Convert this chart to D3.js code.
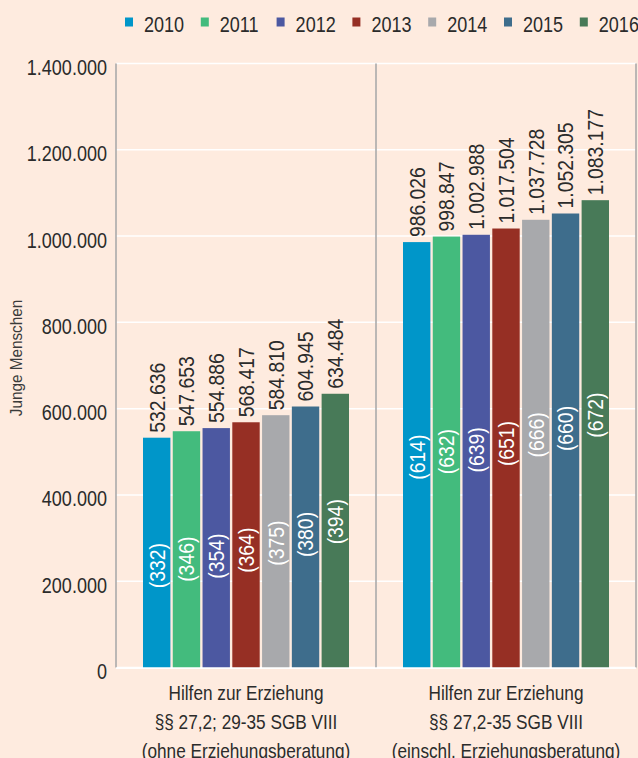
<!DOCTYPE html>
<html>
<head>
<meta charset="utf-8">
<script src="https://cdn.jsdelivr.net/npm/d3@7"></script>
<style>
  html, body { margin: 0; padding: 0; background: #feebdf; }
  svg { display: block; font-family: "Liberation Sans", Arial, sans-serif; }
</style>
</head>
<body>
<div class="plot"></div>
<script>
// data
const years = ["2010", "2011", "2012", "2013", "2014", "2015", "2016"]
const groupLabels = [
  ["Hilfen zur Erziehung", "§§ 27,2; 29-35 SGB VIII", "(ohne Erziehungsberatung)"],
  ["Hilfen zur Erziehung", "§§ 27,2-35 SGB VIII", "(einschl. Erziehungsberatung)"]
]
const valuesOhne = [532636, 547653, 554886, 568417, 584810, 604945, 634484]
const valuesEinschl = [986026, 998847, 1002988, 1017504, 1037728, 1052305, 1083177]
const ratesOhne = [332, 346, 354, 364, 375, 380, 394]
const ratesEinschl = [614, 632, 639, 651, 666, 660, 672]
const yTicks = [0, 200000, 400000, 600000, 800000, 1000000, 1200000, 1400000]
const colors = ["#0096c9", "#43bb7d", "#4c58a1", "#962f24", "#a8a9ac", "#3e6d8c", "#487a58"]

const W = 638, H = 758
const margin = {top: 63.5, right: 2, bottom: 90.5, left: 116}
const width = W - margin.left - margin.right,
      height = H - margin.top - margin.bottom
// the original uses a condensed face, so squeeze Liberation Sans
const squeeze = 0.82, squeezeBar = 0.88

const de = d3.formatLocale({decimal: ",", thousands: ".", grouping: [3], currency: ["", "€"]})
const fmt = de.format(",")

const groups = [
  {label: groupLabels[0], values: valuesOhne, rates: ratesOhne, inner: 128},
  {label: groupLabels[1], values: valuesEinschl, rates: ratesEinschl, inner: 215}
]

let svg = d3.select(".plot").append("svg")
  .attr("width", W)
  .attr("height", H)

svg.append("rect").attr("width", W).attr("height", H).attr("fill", "#feebdf")

let g = svg.append("g")
  .attr("transform", "translate(" + margin.left + "," + margin.top + ")")

let yScale = d3.scaleLinear().domain([0, 1400000]).range([height, 0])
let x0 = d3.scaleBand().domain([0, 1]).range([0, width])
let x1 = d3.scaleBand().domain(years).range([27, x0.bandwidth() - 27]).paddingInner(0.08)

// gridlines
g.append("g").selectAll("line")
  .data(yTicks)
  .join("line")
  .attr("x1", 0).attr("x2", width)
  .attr("y1", d => yScale(d)).attr("y2", d => yScale(d))
  .attr("stroke", "#ffffff")
  .attr("stroke-width", 1.5)

// y axis labels
let yAxis = d3.axisLeft(yScale).tickValues(yTicks).tickFormat(fmt).tickSize(0).tickPadding(9)
let ya = g.append("g").call(yAxis)
ya.select(".domain").remove()
ya.selectAll("text")
  .attr("font-family", "Liberation Sans, Arial, sans-serif")
  .attr("font-size", 22)
  .attr("fill", "#2b2b2b")
  .attr("x", 0)
  .attr("dy", "0.5em")
  .attr("transform", "translate(-9,0) scale(" + squeeze + ",1)")

// vertical separators
g.append("g").selectAll("line")
  .data([0, 1, 2])
  .join("line")
  .attr("x1", d => d * x0.bandwidth()).attr("x2", d => d * x0.bandwidth())
  .attr("y1", 0).attr("y2", height)
  .attr("stroke", "#aaaaaa")
  .attr("stroke-width", 1.6)

let grp = g.selectAll(".grp")
  .data(groups)
  .join("g")
  .attr("class", "grp")
  .attr("transform", (d, i) => "translate(" + x0(i) + ",0)")

grp.each(function(gd) {
  let sel = d3.select(this)
  let items = gd.values.map((v, i) => ({year: years[i], value: v, rate: gd.rates[i], color: colors[i]}))
  sel.selectAll("rect")
    .data(items)
    .join("rect")
    .attr("x", d => x1(d.year))
    .attr("width", x1.bandwidth())
    .attr("y", d => yScale(d.value))
    .attr("height", d => height - yScale(d.value))
    .attr("fill", d => d.color)
  // value labels above bars
  sel.selectAll(".val")
    .data(items)
    .join("text")
    .attr("class", "val")
    .attr("transform", d => "translate(" + (x1(d.year) + x1.bandwidth() / 2) + "," + (yScale(d.value) - 5) + ") rotate(-90) scale(" + squeezeBar + ",1)")
    .attr("dy", "0.36em")
    .attr("font-size", 22)
    .attr("fill", "#2b2b2b")
    .text(d => fmt(d.value))
  // rates inside bars
  sel.selectAll(".rate")
    .data(items)
    .join("text")
    .attr("class", "rate")
    .attr("transform", d => "translate(" + (x1(d.year) + x1.bandwidth() / 2) + "," + (yScale(d.value) + gd.inner) + ") rotate(-90) scale(" + squeezeBar + ",1)")
    .attr("dy", "0.36em")
    .attr("text-anchor", "middle")
    .attr("font-size", 22)
    .attr("fill", "#ffffff")
    .text(d => "(" + d.rate + ")")
  // category label
  sel.append("g")
    .attr("transform", "translate(" + (x0.bandwidth() / 2) + "," + (height + 32.5) + ") scale(" + squeeze + ",1)")
    .append("text")
    .attr("text-anchor", "middle")
    .attr("font-size", 21)
    .attr("fill", "#2b2b2b")
    .selectAll("tspan")
    .data(gd.label)
    .join("tspan")
    .attr("x", 0)
    .attr("dy", (d, i) => i == 0 ? 0 : 29)
    .text(d => d)
})

// baseline
g.append("line")
  .attr("x1", 0).attr("x2", width)
  .attr("y1", height + 0.8).attr("y2", height + 0.8)
  .attr("stroke", "#ffffff")
  .attr("stroke-width", 1.6)

// y title
svg.append("text")
  .attr("transform", "translate(22,358) rotate(-90) scale(0.9,1)")
  .attr("text-anchor", "middle")
  .attr("font-size", 17)
  .attr("fill", "#3a3a3a")
  .text("Junge Menschen")

// legend
let legend = svg.append("g").selectAll("g")
  .data(years)
  .join("g")
  .attr("transform", (d, i) => "translate(" + (125 + i * 75.8) + ",0)")
legend.append("rect")
  .attr("x", 0).attr("y", 17.5)
  .attr("width", 8).attr("height", 9)
  .attr("fill", (d, i) => colors[i])
legend.append("text")
  .attr("transform", "translate(19,31.5) scale(" + squeeze + ",1)")
  .attr("font-size", 22)
  .attr("fill", "#2b2b2b")
  .text(d => d)
</script>
</body>
</html>
